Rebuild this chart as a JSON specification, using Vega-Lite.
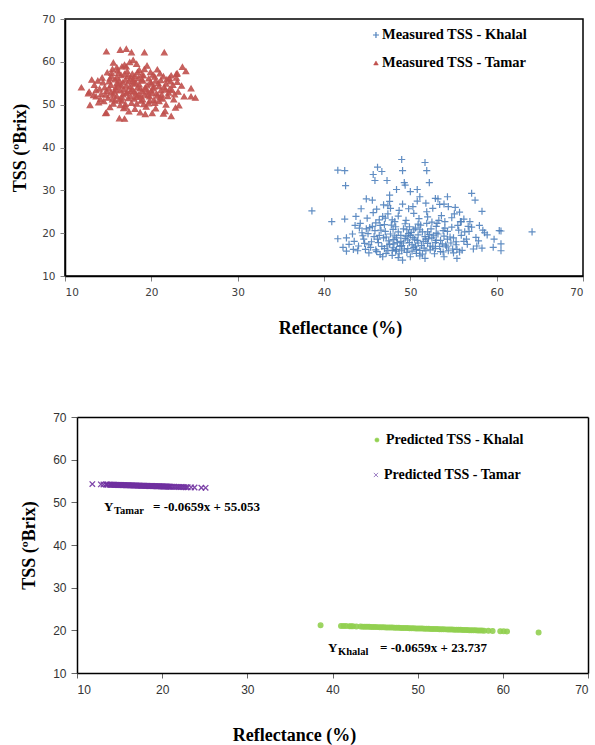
{
  "$schema": "https://vega.github.io/schema/vega-lite/v6.json",
  "background": "#ffffff",
  "padding": {"left": 10, "top": 13, "right": 5, "bottom": 5},
  "spacing": 72,
  "resolve": {"scale": {"fill": "independent", "stroke": "independent", "shape": "independent", "size": "independent"}},
  "datasets": {
    "measured": [
      {"s":"K","x":38.6,"y":25.2},{"s":"K","x":41.6,"y":34.7},{"s":"K","x":42.4,"y":34.6},{"s":"K","x":42.5,"y":31.1},{"s":"K","x":40.9,"y":22.7},{"s":"K","x":42.4,"y":23.3},{"s":"K","x":49.0,"y":37.2},{"s":"K","x":51.7,"y":36.5},{"s":"K","x":46.2,"y":35.4},{"s":"K","x":45.7,"y":33.7},
      {"s":"K","x":46.7,"y":34.4},{"s":"K","x":49.1,"y":34.6},{"s":"K","x":51.9,"y":34.6},{"s":"K","x":45.9,"y":32.3},{"s":"K","x":47.3,"y":32.3},{"s":"K","x":52.2,"y":31.8},{"s":"K","x":49.3,"y":31.8},{"s":"K","x":64.1,"y":20.3},{"s":"K","x":57.1,"y":29.3},{"s":"K","x":57.5,"y":27.7},
      {"s":"K","x":58.3,"y":25.1},{"s":"K","x":60.5,"y":20.5},{"s":"K","x":60.5,"y":15.9},{"s":"K","x":59.7,"y":18.6},{"s":"K","x":49.1,"y":13.7},{"s":"K","x":44.9,"y":28.0},{"s":"K","x":44.3,"y":25.7},{"s":"K","x":55.9,"y":22.7},{"s":"K","x":54.4,"y":26.2},{"s":"K","x":53.2,"y":28.0},
      {"s":"K","x":45.6,"y":27.7},{"s":"K","x":41.6,"y":18.7},{"s":"K","x":42.6,"y":18.9},{"s":"K","x":43.6,"y":21.8},{"s":"K","x":42.2,"y":16.7},{"s":"K","x":42.6,"y":15.8},{"s":"K","x":43.4,"y":16.2},{"s":"K","x":44.9,"y":21.0},{"s":"K","x":46.1,"y":25.6},{"s":"K","x":46.9,"y":26.6},
      {"s":"K","x":47.4,"y":26.4},{"s":"K","x":47.6,"y":28.9},{"s":"K","x":48.4,"y":30.2},{"s":"K","x":49.4,"y":31.2},{"s":"K","x":50.0,"y":29.7},{"s":"K","x":50.8,"y":30.2},{"s":"K","x":51.1,"y":28.5},{"s":"K","x":51.8,"y":27.0},{"s":"K","x":52.9,"y":28.1},{"s":"K","x":53.4,"y":26.7},
      {"s":"K","x":54.3,"y":28.5},{"s":"K","x":55.2,"y":26.0},{"s":"K","x":55.7,"y":24.9},{"s":"K","x":58.4,"y":20.7},{"s":"K","x":58.6,"y":20.1},{"s":"K","x":60.3,"y":20.6},{"s":"K","x":59.6,"y":16.7},{"s":"K","x":60.5,"y":17.5},{"s":"K","x":57.7,"y":17.0},{"s":"K","x":58.3,"y":16.5},
      {"s":"K","x":56.9,"y":22.7},{"s":"K","x":55.8,"y":22.7},{"s":"K","x":56.3,"y":20.3},{"s":"K","x":56.5,"y":18.6},{"s":"K","x":55.4,"y":14.1},{"s":"K","x":53.9,"y":14.5},{"s":"K","x":51.7,"y":14.1},{"s":"K","x":46.8,"y":14.5},{"s":"K","x":45.2,"y":15.4},{"s":"K","x":55.4,"y":16.2},
      {"s":"K","x":54.2,"y":16.8},{"s":"K","x":47.5,"y":18.2},{"s":"K","x":48.1,"y":17.5},{"s":"K","x":48.8,"y":16.9},{"s":"K","x":49.4,"y":18.8},{"s":"K","x":50.2,"y":17.3},{"s":"K","x":50.9,"y":19.6},{"s":"K","x":51.5,"y":18.1},{"s":"K","x":52.3,"y":17.0},{"s":"K","x":47.0,"y":16.4},
      {"s":"K","x":46.3,"y":17.8},{"s":"K","x":45.8,"y":19.2},{"s":"K","x":48.6,"y":20.3},{"s":"K","x":49.9,"y":21.5},{"s":"K","x":51.1,"y":20.8},{"s":"K","x":52.7,"y":19.4},{"s":"K","x":53.5,"y":18.3},{"s":"K","x":54.1,"y":17.2},{"s":"K","x":53.0,"y":21.6},{"s":"K","x":47.8,"y":21.9},
      {"s":"K","x":46.6,"y":20.7},{"s":"K","x":45.2,"y":17.3},{"s":"K","x":44.6,"y":18.6},{"s":"K","x":44.0,"y":17.0},{"s":"K","x":43.5,"y":18.1},{"s":"K","x":48.3,"y":15.8},{"s":"K","x":49.6,"y":15.5},{"s":"K","x":50.7,"y":16.2},{"s":"K","x":51.8,"y":15.9},{"s":"K","x":52.9,"y":16.4},
      {"s":"K","x":53.8,"y":15.6},{"s":"K","x":47.2,"y":15.3},{"s":"K","x":46.0,"y":16.1},{"s":"K","x":48.9,"y":19.5},{"s":"K","x":49.2,"y":17.7},{"s":"K","x":50.5,"y":18.6},{"s":"K","x":48.4,"y":18.9},{"s":"K","x":47.7,"y":19.8},{"s":"K","x":46.9,"y":18.9},{"s":"K","x":51.3,"y":17.1},
      {"s":"K","x":50.1,"y":20.2},{"s":"K","x":49.7,"y":16.4},{"s":"K","x":48.0,"y":16.6},{"s":"K","x":52.1,"y":18.7},{"s":"K","x":53.2,"y":19.8},{"s":"K","x":54.6,"y":19.1},{"s":"K","x":55.3,"y":18.0},{"s":"K","x":55.9,"y":19.5},{"s":"K","x":56.6,"y":17.4},{"s":"K","x":54.9,"y":16.3},
      {"s":"K","x":55.6,"y":20.7},{"s":"K","x":54.0,"y":21.2},{"s":"K","x":52.5,"y":22.6},{"s":"K","x":51.0,"y":23.4},{"s":"K","x":49.5,"y":23.0},{"s":"K","x":48.2,"y":22.7},{"s":"K","x":47.1,"y":23.5},{"s":"K","x":46.0,"y":22.4},{"s":"K","x":45.3,"y":21.3},{"s":"K","x":44.4,"y":20.1},
      {"s":"K","x":43.3,"y":19.8},{"s":"K","x":50.4,"y":24.6},{"s":"K","x":51.9,"y":25.0},{"s":"K","x":53.6,"y":24.1},{"s":"K","x":48.7,"y":25.3},{"s":"K","x":47.4,"y":24.5},{"s":"K","x":49.1,"y":26.8},{"s":"K","x":50.8,"y":27.5},{"s":"K","x":52.6,"y":25.8},{"s":"K","x":54.8,"y":23.6},
      {"s":"K","x":56.2,"y":23.3},{"s":"K","x":57.1,"y":21.4},{"s":"K","x":57.6,"y":19.0},{"s":"K","x":46.5,"y":15.0},{"s":"K","x":47.9,"y":14.8},{"s":"K","x":50.0,"y":14.5},{"s":"K","x":51.4,"y":15.1},{"s":"K","x":52.8,"y":15.2},{"s":"K","x":55.0,"y":15.4},{"s":"K","x":56.0,"y":16.0},
      {"s":"K","x":53.7,"y":17.5},{"s":"K","x":49.0,"y":17.1},{"s":"K","x":50.6,"y":17.0},{"s":"K","x":48.5,"y":17.8},{"s":"K","x":47.3,"y":17.0},{"s":"K","x":51.7,"y":19.2},{"s":"K","x":52.0,"y":20.3},{"s":"K","x":50.3,"y":19.0},{"s":"K","x":49.8,"y":19.9},{"s":"K","x":48.0,"y":18.5},
      {"s":"K","x":46.4,"y":19.5},{"s":"K","x":45.5,"y":18.0},{"s":"K","x":44.8,"y":16.2},{"s":"K","x":43.9,"y":15.9},{"s":"K","x":53.3,"y":23.0},{"s":"K","x":55.5,"y":21.8},{"s":"K","x":56.8,"y":20.4},{"s":"K","x":57.9,"y":18.2},{"s":"K","x":58.9,"y":19.6},{"s":"K","x":42.9,"y":17.4},
      {"s":"K","x":44.2,"y":22.3},{"s":"K","x":46.8,"y":23.9},{"s":"K","x":48.6,"y":24.0},{"s":"K","x":50.9,"y":22.1},{"s":"K","x":52.4,"y":21.0},{"s":"K","x":54.3,"y":20.4},{"s":"K","x":45.7,"y":24.8},{"s":"K","x":47.6,"y":27.4},{"s":"K","x":53.9,"y":26.8},{"s":"K","x":55.1,"y":24.5},
      {"s":"K","x":46.2,"y":18.6},{"s":"K","x":46.7,"y":16.9},{"s":"K","x":47.1,"y":20.4},{"s":"K","x":47.6,"y":17.4},{"s":"K","x":48.0,"y":20.9},{"s":"K","x":48.4,"y":16.2},{"s":"K","x":48.9,"y":18.1},{"s":"K","x":49.2,"y":21.0},{"s":"K","x":49.5,"y":19.3},{"s":"K","x":49.9,"y":17.8},
      {"s":"K","x":50.4,"y":16.7},{"s":"K","x":50.8,"y":18.3},{"s":"K","x":51.2,"y":21.9},{"s":"K","x":51.6,"y":16.5},{"s":"K","x":52.0,"y":17.6},{"s":"K","x":52.5,"y":18.9},{"s":"K","x":52.9,"y":17.8},{"s":"K","x":53.4,"y":16.9},{"s":"K","x":53.8,"y":20.6},{"s":"K","x":54.3,"y":18.6},
      {"s":"K","x":54.7,"y":17.7},{"s":"K","x":45.4,"y":16.7},{"s":"K","x":45.9,"y":20.6},{"s":"K","x":46.5,"y":21.8},{"s":"K","x":47.9,"y":23.1},{"s":"K","x":49.4,"y":22.2},{"s":"K","x":50.6,"y":21.2},{"s":"K","x":51.9,"y":22.3},{"s":"K","x":53.1,"y":22.3},{"s":"K","x":48.7,"y":15.2},
      {"s":"K","x":50.2,"y":15.8},{"s":"K","x":51.1,"y":14.7},{"s":"K","x":52.3,"y":16.1},{"s":"K","x":49.6,"y":20.8},{"s":"K","x":48.2,"y":19.4},{"s":"K","x":47.2,"y":19.1},{"s":"K","x":50.9,"y":17.7},{"s":"K","x":53.0,"y":18.3},{"s":"K","x":44.5,"y":19.4},{"s":"K","x":55.0,"y":18.9},
      {"s":"K","x":44.7,"y":17.6},{"s":"K","x":45.1,"y":19.9},{"s":"K","x":45.6,"y":21.6},{"s":"K","x":46.1,"y":15.7},{"s":"K","x":46.4,"y":23.1},{"s":"K","x":47.0,"y":22.0},{"s":"K","x":47.4,"y":15.9},{"s":"K","x":47.9,"y":16.0},{"s":"K","x":48.3,"y":21.5},{"s":"K","x":48.6,"y":14.3},
      {"s":"K","x":49.0,"y":15.9},{"s":"K","x":49.3,"y":16.3},{"s":"K","x":49.7,"y":18.4},{"s":"K","x":50.0,"y":19.5},{"s":"K","x":50.4,"y":20.8},{"s":"K","x":50.7,"y":15.3},{"s":"K","x":51.1,"y":16.0},{"s":"K","x":51.4,"y":20.3},{"s":"K","x":51.8,"y":18.6},{"s":"K","x":52.2,"y":19.7},
      {"s":"K","x":52.6,"y":16.8},{"s":"K","x":53.0,"y":20.0},{"s":"K","x":53.5,"y":15.7},{"s":"K","x":53.9,"y":19.3},{"s":"K","x":54.4,"y":15.9},{"s":"K","x":54.8,"y":21.4},{"s":"K","x":55.3,"y":17.3},{"s":"K","x":55.7,"y":15.6},{"s":"K","x":56.2,"y":18.1},{"s":"K","x":56.7,"y":21.6},
      {"s":"K","x":57.3,"y":16.3},{"s":"K","x":58.0,"y":21.8},{"s":"K","x":43.7,"y":23.9},{"s":"K","x":44.1,"y":21.2},{"s":"K","x":45.0,"y":23.5},{"s":"K","x":47.7,"y":25.8},{"s":"K","x":49.8,"y":25.7},{"s":"K","x":52.0,"y":23.8},{"s":"K","x":54.0,"y":22.7},{"s":"K","x":50.3,"y":26.2},
      {"s":"T","x":11.9,"y":54.0},{"s":"T","x":14.8,"y":62.4},{"s":"T","x":16.4,"y":62.8},{"s":"T","x":17.1,"y":63.0},{"s":"T","x":17.7,"y":62.2},{"s":"T","x":19.2,"y":62.2},{"s":"T","x":21.5,"y":62.2},{"s":"T","x":16.3,"y":46.8},{"s":"T","x":16.9,"y":46.7},{"s":"T","x":22.3,"y":47.3},
      {"s":"T","x":14.7,"y":48.0},{"s":"T","x":19.3,"y":47.8},{"s":"T","x":25.1,"y":51.6},{"s":"T","x":24.6,"y":51.9},{"s":"T","x":23.6,"y":58.8},{"s":"T","x":24.6,"y":53.8},{"s":"T","x":22.9,"y":57.2},{"s":"T","x":17.9,"y":60.4},{"s":"T","x":15.6,"y":59.8},{"s":"T","x":13.1,"y":55.8},
      {"s":"T","x":12.9,"y":49.9},{"s":"T","x":12.8,"y":53.0},{"s":"T","x":23.2,"y":49.8},{"s":"T","x":22.1,"y":56.2},{"s":"T","x":12.7,"y":52.6},{"s":"T","x":16.0,"y":58.7},{"s":"T","x":17.1,"y":58.9},{"s":"T","x":23.0,"y":57.3},{"s":"T","x":23.8,"y":51.9},{"s":"T","x":14.8,"y":48.1},
      {"s":"T","x":17.5,"y":54.2},{"s":"T","x":16.8,"y":53.6},{"s":"T","x":18.2,"y":55.1},{"s":"T","x":17.0,"y":55.8},{"s":"T","x":18.9,"y":53.2},{"s":"T","x":16.2,"y":54.7},{"s":"T","x":15.7,"y":53.1},{"s":"T","x":19.5,"y":54.5},{"s":"T","x":20.2,"y":53.8},{"s":"T","x":20.8,"y":55.0},
      {"s":"T","x":21.5,"y":54.1},{"s":"T","x":15.1,"y":55.4},{"s":"T","x":14.6,"y":54.0},{"s":"T","x":14.2,"y":52.5},{"s":"T","x":15.0,"y":51.6},{"s":"T","x":16.0,"y":52.0},{"s":"T","x":17.3,"y":51.5},{"s":"T","x":18.5,"y":52.3},{"s":"T","x":19.8,"y":51.9},{"s":"T","x":20.6,"y":52.6},
      {"s":"T","x":21.3,"y":51.4},{"s":"T","x":22.0,"y":52.8},{"s":"T","x":22.5,"y":54.6},{"s":"T","x":21.8,"y":55.9},{"s":"T","x":20.4,"y":56.5},{"s":"T","x":19.1,"y":56.8},{"s":"T","x":17.8,"y":57.2},{"s":"T","x":16.5,"y":56.9},{"s":"T","x":15.4,"y":56.6},{"s":"T","x":14.9,"y":57.5},
      {"s":"T","x":16.1,"y":58.0},{"s":"T","x":18.6,"y":58.1},{"s":"T","x":19.9,"y":57.6},{"s":"T","x":21.0,"y":57.3},{"s":"T","x":17.6,"y":56.3},{"s":"T","x":18.0,"y":53.0},{"s":"T","x":17.1,"y":52.7},{"s":"T","x":16.4,"y":53.3},{"s":"T","x":19.0,"y":55.6},{"s":"T","x":19.6,"y":53.0},
      {"s":"T","x":18.4,"y":54.0},{"s":"T","x":17.9,"y":54.9},{"s":"T","x":16.7,"y":55.2},{"s":"T","x":15.9,"y":54.1},{"s":"T","x":15.3,"y":52.8},{"s":"T","x":14.5,"y":50.8},{"s":"T","x":15.6,"y":50.2},{"s":"T","x":16.6,"y":50.9},{"s":"T","x":17.7,"y":50.4},{"s":"T","x":18.8,"y":50.9},
      {"s":"T","x":19.7,"y":50.3},{"s":"T","x":20.9,"y":50.8},{"s":"T","x":21.7,"y":50.0},{"s":"T","x":22.6,"y":51.2},{"s":"T","x":23.1,"y":53.0},{"s":"T","x":23.0,"y":55.3},{"s":"T","x":22.3,"y":56.8},{"s":"T","x":14.0,"y":53.7},{"s":"T","x":13.6,"y":51.9},{"s":"T","x":13.4,"y":54.6},
      {"s":"T","x":15.2,"y":49.4},{"s":"T","x":16.8,"y":49.2},{"s":"T","x":18.1,"y":49.0},{"s":"T","x":19.4,"y":49.5},{"s":"T","x":20.5,"y":49.1},{"s":"T","x":21.6,"y":48.5},{"s":"T","x":17.4,"y":48.4},{"s":"T","x":18.7,"y":48.2},{"s":"T","x":20.1,"y":48.0},{"s":"T","x":16.3,"y":51.2},
      {"s":"T","x":17.0,"y":50.1},{"s":"T","x":18.3,"y":51.8},{"s":"T","x":19.2,"y":52.4},{"s":"T","x":20.0,"y":54.9},{"s":"T","x":21.1,"y":53.3},{"s":"T","x":22.1,"y":53.6},{"s":"T","x":15.8,"y":55.9},{"s":"T","x":17.2,"y":57.8},{"s":"T","x":18.9,"y":57.0},{"s":"T","x":20.7,"y":58.2},
      {"s":"T","x":19.5,"y":59.1},{"s":"T","x":18.3,"y":59.5},{"s":"T","x":16.9,"y":59.3},{"s":"T","x":15.5,"y":58.3},{"s":"T","x":14.3,"y":56.3},{"s":"T","x":13.8,"y":55.6},{"s":"T","x":22.8,"y":49.3},{"s":"T","x":21.4,"y":47.9},{"s":"T","x":20.3,"y":51.1},{"s":"T","x":17.6,"y":53.2},
      {"s":"T","x":18.7,"y":53.8},{"s":"T","x":16.5,"y":54.4},{"s":"T","x":19.3,"y":54.0},{"s":"T","x":20.5,"y":55.6},{"s":"T","x":21.9,"y":52.0},{"s":"T","x":14.8,"y":53.2},{"s":"T","x":15.6,"y":52.3},{"s":"T","x":17.9,"y":56.0},{"s":"T","x":18.1,"y":56.7},{"s":"T","x":16.2,"y":57.4},
      {"s":"T","x":22.9,"y":56.3},{"s":"T","x":23.5,"y":54.4},{"s":"T","x":24.0,"y":57.8},{"s":"T","x":13.3,"y":52.2},{"s":"T","x":13.9,"y":50.5},
      {"s":"T","x":15.3,"y":54.6},{"s":"T","x":15.9,"y":53.5},{"s":"T","x":16.3,"y":55.6},{"s":"T","x":16.7,"y":52.4},{"s":"T","x":17.1,"y":54.4},{"s":"T","x":17.4,"y":55.4},{"s":"T","x":17.8,"y":53.6},{"s":"T","x":18.2,"y":52.6},{"s":"T","x":18.6,"y":54.7},{"s":"T","x":18.9,"y":55.9},
      {"s":"T","x":19.3,"y":53.6},{"s":"T","x":19.6,"y":52.2},{"s":"T","x":20.0,"y":53.3},{"s":"T","x":20.3,"y":54.2},{"s":"T","x":20.7,"y":52.1},{"s":"T","x":21.1,"y":55.7},{"s":"T","x":21.4,"y":56.6},{"s":"T","x":16.0,"y":56.3},{"s":"T","x":16.9,"y":57.2},{"s":"T","x":18.4,"y":57.6},
      {"s":"T","x":19.7,"y":56.1},{"s":"T","x":15.1,"y":53.8},{"s":"T","x":14.4,"y":55.2},{"s":"T","x":15.5,"y":51.2},{"s":"T","x":17.2,"y":53.0},{"s":"T","x":18.0,"y":51.4},{"s":"T","x":19.0,"y":51.2},{"s":"T","x":20.1,"y":52.7},{"s":"T","x":21.2,"y":52.3},{"s":"T","x":16.6,"y":51.7},
      {"s":"T","x":17.9,"y":55.5},{"s":"T","x":18.5,"y":56.2},{"s":"T","x":17.3,"y":56.7},{"s":"T","x":16.0,"y":55.0},{"s":"T","x":20.9,"y":54.3},{"s":"T","x":22.4,"y":53.4},{"s":"T","x":19.9,"y":55.3},{"s":"T","x":18.8,"y":52.0},{"s":"T","x":15.4,"y":57.4},{"s":"T","x":21.6,"y":53.5},
      {"s":"T","x":14.1,"y":51.3},{"s":"T","x":14.7,"y":52.3},{"s":"T","x":15.2,"y":56.1},{"s":"T","x":15.8,"y":50.9},{"s":"T","x":16.4,"y":49.9},{"s":"T","x":17.0,"y":49.5},{"s":"T","x":17.6,"y":51.9},{"s":"T","x":18.3,"y":50.2},{"s":"T","x":19.1,"y":50.1},{"s":"T","x":19.8,"y":50.9},
      {"s":"T","x":20.4,"y":50.4},{"s":"T","x":21.0,"y":51.7},{"s":"T","x":21.7,"y":54.9},{"s":"T","x":22.2,"y":55.4},{"s":"T","x":22.7,"y":52.4},{"s":"T","x":16.6,"y":58.9},{"s":"T","x":17.5,"y":59.9},{"s":"T","x":19.2,"y":58.3},{"s":"T","x":20.2,"y":57.0},{"s":"T","x":13.6,"y":53.4}
    ],
    "predicted": [
      {"s":"K","x":38.6,"y":21.193},{"s":"K","x":41.0,"y":21.035},{"s":"K","x":41.3,"y":21.015},{"s":"K","x":41.6,"y":20.996},{"s":"K","x":42.0,"y":20.969},{"s":"K","x":42.2,"y":20.956},{"s":"K","x":42.4,"y":20.943},{"s":"K","x":42.8,"y":20.916},{"s":"K","x":43.3,"y":20.884},{"s":"K","x":43.8,"y":20.851},
      {"s":"K","x":44.3,"y":20.818},{"s":"K","x":44.8,"y":20.785},{"s":"K","x":45.3,"y":20.752},{"s":"K","x":45.8,"y":20.719},{"s":"K","x":46.3,"y":20.686},{"s":"K","x":46.8,"y":20.653},{"s":"K","x":47.3,"y":20.620},{"s":"K","x":47.8,"y":20.587},{"s":"K","x":48.3,"y":20.554},{"s":"K","x":48.8,"y":20.521},
      {"s":"K","x":49.3,"y":20.488},{"s":"K","x":49.8,"y":20.455},{"s":"K","x":50.3,"y":20.422},{"s":"K","x":50.8,"y":20.389},{"s":"K","x":51.3,"y":20.356},{"s":"K","x":51.8,"y":20.323},{"s":"K","x":52.3,"y":20.290},{"s":"K","x":52.8,"y":20.258},{"s":"K","x":53.3,"y":20.225},{"s":"K","x":53.8,"y":20.192},
      {"s":"K","x":54.3,"y":20.159},{"s":"K","x":54.8,"y":20.126},{"s":"K","x":55.3,"y":20.093},{"s":"K","x":55.8,"y":20.060},{"s":"K","x":56.3,"y":20.027},{"s":"K","x":56.8,"y":19.994},{"s":"K","x":57.3,"y":19.961},{"s":"K","x":57.8,"y":19.928},{"s":"K","x":58.3,"y":19.895},{"s":"K","x":58.8,"y":19.862},
      {"s":"K","x":59.7,"y":19.803},{"s":"K","x":60.1,"y":19.776},{"s":"K","x":60.5,"y":19.750},{"s":"K","x":64.2,"y":19.506},
      {"s":"K","x":43.55,"y":20.867},{"s":"K","x":44.05,"y":20.834},{"s":"K","x":44.55,"y":20.801},{"s":"K","x":45.05,"y":20.768},{"s":"K","x":45.55,"y":20.735},{"s":"K","x":46.05,"y":20.702},{"s":"K","x":46.55,"y":20.669},{"s":"K","x":47.05,"y":20.636},{"s":"K","x":47.55,"y":20.603},{"s":"K","x":48.05,"y":20.571},
      {"s":"K","x":48.55,"y":20.538},{"s":"K","x":49.05,"y":20.505},{"s":"K","x":49.55,"y":20.472},{"s":"K","x":50.05,"y":20.439},{"s":"K","x":50.55,"y":20.406},{"s":"K","x":51.05,"y":20.373},{"s":"K","x":51.55,"y":20.340},{"s":"K","x":52.05,"y":20.307},{"s":"K","x":52.55,"y":20.274},{"s":"K","x":53.05,"y":20.241},
      {"s":"K","x":53.55,"y":20.208},{"s":"K","x":54.05,"y":20.175},{"s":"K","x":54.55,"y":20.142},{"s":"K","x":55.05,"y":20.109},{"s":"K","x":55.55,"y":20.076},{"s":"K","x":56.05,"y":20.043},{"s":"K","x":56.55,"y":20.010},{"s":"K","x":57.05,"y":19.977},{"s":"K","x":57.55,"y":19.944},
      {"s":"T","x":11.8,"y":54.275},{"s":"T","x":12.8,"y":54.210},{"s":"T","x":13.1,"y":54.190},{"s":"T","x":13.4,"y":54.170},{"s":"T","x":13.8,"y":54.144},{"s":"T","x":14.2,"y":54.117},{"s":"T","x":14.6,"y":54.091},{"s":"T","x":15.0,"y":54.065},{"s":"T","x":15.4,"y":54.038},{"s":"T","x":15.6,"y":54.025},
      {"s":"T","x":15.8,"y":54.012},{"s":"T","x":16.0,"y":53.998},{"s":"T","x":16.2,"y":53.985},{"s":"T","x":16.4,"y":53.972},{"s":"T","x":16.6,"y":53.959},{"s":"T","x":16.8,"y":53.946},{"s":"T","x":17.0,"y":53.933},{"s":"T","x":17.2,"y":53.920},{"s":"T","x":17.4,"y":53.906},{"s":"T","x":17.6,"y":53.893},
      {"s":"T","x":17.8,"y":53.880},{"s":"T","x":18.0,"y":53.867},{"s":"T","x":18.2,"y":53.854},{"s":"T","x":18.4,"y":53.840},{"s":"T","x":18.6,"y":53.827},{"s":"T","x":18.8,"y":53.814},{"s":"T","x":19.0,"y":53.801},{"s":"T","x":19.2,"y":53.788},{"s":"T","x":19.4,"y":53.775},{"s":"T","x":19.6,"y":53.761},
      {"s":"T","x":19.8,"y":53.748},{"s":"T","x":20.0,"y":53.735},{"s":"T","x":20.2,"y":53.722},{"s":"T","x":20.4,"y":53.709},{"s":"T","x":20.6,"y":53.695},{"s":"T","x":20.8,"y":53.682},{"s":"T","x":21.0,"y":53.669},{"s":"T","x":21.4,"y":53.643},{"s":"T","x":21.8,"y":53.616},{"s":"T","x":22.2,"y":53.590},
      {"s":"T","x":22.6,"y":53.564},{"s":"T","x":23.0,"y":53.537},{"s":"T","x":23.4,"y":53.511},{"s":"T","x":23.8,"y":53.485},{"s":"T","x":24.6,"y":53.432},{"s":"T","x":25.1,"y":53.399},
      {"s":"T","x":13.5,"y":54.163},{"s":"T","x":13.6,"y":54.157},{"s":"T","x":13.9,"y":54.137},{"s":"T","x":14.0,"y":54.130},{"s":"T","x":14.1,"y":54.124},{"s":"T","x":14.3,"y":54.111},{"s":"T","x":14.4,"y":54.104},{"s":"T","x":14.5,"y":54.097},{"s":"T","x":14.7,"y":54.084},{"s":"T","x":14.8,"y":54.078},
      {"s":"T","x":14.9,"y":54.071},{"s":"T","x":15.1,"y":54.058},{"s":"T","x":15.2,"y":54.051},{"s":"T","x":15.3,"y":54.045},{"s":"T","x":15.5,"y":54.032},{"s":"T","x":15.7,"y":54.018},{"s":"T","x":15.9,"y":54.005},{"s":"T","x":16.1,"y":53.992},{"s":"T","x":16.3,"y":53.979},{"s":"T","x":16.5,"y":53.966},
      {"s":"T","x":16.7,"y":53.952},{"s":"T","x":16.9,"y":53.939},{"s":"T","x":17.1,"y":53.926},{"s":"T","x":17.3,"y":53.913},{"s":"T","x":17.5,"y":53.900},{"s":"T","x":17.7,"y":53.887},{"s":"T","x":17.9,"y":53.873},{"s":"T","x":18.1,"y":53.860},{"s":"T","x":18.3,"y":53.847},{"s":"T","x":18.5,"y":53.834},
      {"s":"T","x":18.7,"y":53.821},{"s":"T","x":18.9,"y":53.808},{"s":"T","x":19.1,"y":53.794},{"s":"T","x":19.3,"y":53.781},{"s":"T","x":19.5,"y":53.768},{"s":"T","x":19.7,"y":53.755},{"s":"T","x":19.9,"y":53.742},{"s":"T","x":20.1,"y":53.728},{"s":"T","x":20.3,"y":53.715},{"s":"T","x":20.5,"y":53.702},
      {"s":"T","x":20.7,"y":53.689},{"s":"T","x":20.9,"y":53.676},{"s":"T","x":21.2,"y":53.656},{"s":"T","x":21.6,"y":53.630},{"s":"T","x":22.0,"y":53.603},{"s":"T","x":22.4,"y":53.577},{"s":"T","x":22.8,"y":53.550}
    ]
  },
  "vconcat": [
    {
      "width": 518,
      "height": 257,
      "resolve": {"axis": {"x": "independent", "y": "independent"}},
      "layer": [
        {
          "data": {"name": "measured"},
          "mark": {"type": "point", "filled": true, "strokeWidth": 1.2, "opacity": 0.9},
          "encoding": {
            "x": {"field": "x", "type": "quantitative",
              "scale": {"domain": [10, 70], "nice": false, "zero": false},
              "axis": {"values": [10, 20, 30, 40, 50, 60, 70], "title": "Reflectance (%)", "titleX": 275, "titlePadding": 22,
                "labelFont": "DejaVu Sans", "labelFontSize": 10.5, "labelColor": "#404040", "tickColor": "#808080", "tickSize": 5, "labelPadding": 6,
                "domainColor": "#000", "domainWidth": 1.5,
                "titleFont": "Liberation Serif", "titleFontSize": 18, "titleFontWeight": "bold", "titleColor": "#000"}},
            "y": {"field": "y", "type": "quantitative",
              "scale": {"domain": [10, 70], "nice": false, "zero": false},
              "axis": {"values": [10, 20, 30, 40, 50, 60, 70], "title": "TSS (ºBrix)", "titlePadding": 12,
                "labelFont": "DejaVu Sans", "labelFontSize": 10.5, "labelColor": "#404040", "tickColor": "#808080", "tickSize": 5, "labelPadding": 5,
                "domainColor": "#000", "domainWidth": 1.5,
                "titleFont": "Liberation Serif", "titleFontSize": 18, "titleFontWeight": "bold", "titleColor": "#000"}},
            "fill": {"field": "s", "type": "nominal", "scale": {"domain": ["K", "T"], "range": ["#4F81BD", "#C0504D"]}, "legend": null},
            "stroke": {"field": "s", "type": "nominal", "scale": {"domain": ["K", "T"], "range": ["#4F81BD", "#C0504D"]}, "legend": null},
            "shape": {"field": "s", "type": "nominal", "scale": {"domain": ["K", "T"], "range": ["M-1,0H1M0,-1V1", "triangle-up"]}, "legend": null},
            "size": {"field": "s", "type": "nominal", "scale": {"domain": ["K", "T"], "range": [50, 32]}, "legend": null}
          }
        },
        {
          "data": {"values": [{}]},
          "mark": {"type": "point", "shape": "M-1,0H1M0,-1V1", "size": 36, "stroke": "#4F81BD", "strokeWidth": 1.2, "filled": false, "opacity": 1},
          "encoding": {
            "x": {"datum": 46.02, "type": "quantitative", "axis": null},
            "y": {"datum": 66.26, "type": "quantitative", "axis": null}
          }
        },
        {
          "data": {"values": [{}]},
          "mark": {"type": "point", "shape": "triangle-up", "size": 22, "fill": "#C0504D", "stroke": "#C0504D", "strokeWidth": 0.5, "filled": true, "opacity": 1},
          "encoding": {
            "x": {"datum": 46.02, "type": "quantitative", "axis": null},
            "y": {"datum": 59.73, "type": "quantitative", "axis": null}
          }
        },
        {
          "data": {"values": [{}]},
          "mark": {"type": "text", "text": "Measured TSS - Khalal", "align": "left", "baseline": "middle", "dx": 6, "font": "Liberation Serif", "fontSize": 14.5, "fontWeight": "bold", "color": "#000"},
          "encoding": {
            "x": {"datum": 46.02, "type": "quantitative", "axis": null},
            "y": {"datum": 66.26, "type": "quantitative", "axis": null}
          }
        },
        {
          "data": {"values": [{}]},
          "mark": {"type": "text", "text": "Measured TSS - Tamar", "align": "left", "baseline": "middle", "dx": 6, "font": "Liberation Serif", "fontSize": 14.5, "fontWeight": "bold", "color": "#000"},
          "encoding": {
            "x": {"datum": 46.02, "type": "quantitative", "axis": null},
            "y": {"datum": 59.73, "type": "quantitative", "axis": null}
          }
        }
      ]
    },
    {
      "width": 523,
      "height": 256,
      "view": {"stroke": null},
      "resolve": {"axis": {"x": "independent", "y": "independent"}},
      "layer": [
        {
          "data": {"name": "predicted"},
          "mark": {"type": "point", "filled": true, "strokeWidth": 1.3, "opacity": 0.9},
          "encoding": {
            "x": {"field": "x", "type": "quantitative",
              "scale": {"domain": [10, 70], "nice": false, "zero": false, "range": [12, 523]},
              "axis": {"values": [10, 20, 30, 40, 50, 60, 70], "title": "Reflectance (%)", "titleX": 229, "titlePadding": 31,
                "labelFont": "Liberation Sans", "labelFontSize": 12, "labelColor": "#333", "tickColor": "#666", "tickSize": 5, "labelPadding": 6,
                "domainColor": "#000", "domainWidth": 1.5,
                "titleFont": "Liberation Serif", "titleFontSize": 18, "titleFontWeight": "bold", "titleColor": "#000"}},
            "y": {"field": "y", "type": "quantitative",
              "scale": {"domain": [10, 70], "nice": false, "zero": false},
              "axis": {"values": [10, 20, 30, 40, 50, 60, 70], "title": "TSS (ºBrix)", "titlePadding": 14, "offset": -12,
                "labelFont": "Liberation Sans", "labelFontSize": 12, "labelColor": "#333", "tickColor": "#666", "tickSize": 6, "labelPadding": 5,
                "domainColor": "#000", "domainWidth": 1.5,
                "titleFont": "Liberation Serif", "titleFontSize": 18, "titleFontWeight": "bold", "titleColor": "#000"}},
            "fill": {"field": "s", "type": "nominal", "scale": {"domain": ["K", "T"], "range": ["#92D050", "#7030A0"]}, "legend": null},
            "stroke": {"field": "s", "type": "nominal", "scale": {"domain": ["K", "T"], "range": ["#92D050", "#7030A0"]}, "legend": null},
            "shape": {"field": "s", "type": "nominal", "scale": {"domain": ["K", "T"], "range": ["circle", "M-1,-1L1,1M1,-1L-1,1"]}, "legend": null},
            "size": {"field": "s", "type": "nominal", "scale": {"domain": ["K", "T"], "range": [22, 30]}, "legend": null}
          }
        },
        {
          "data": {"values": [{}]},
          "mark": {"type": "text", "text": "Y", "align": "left", "baseline": "alphabetic", "font": "Liberation Serif", "fontSize": 13, "fontWeight": "bold", "color": "#000"},
          "encoding": {
            "x": {"datum": 13.17, "type": "quantitative", "scale": {"domain": [10, 70], "nice": false, "zero": false, "range": [12, 523]},
              "axis": {"orient": "top", "labels": false, "ticks": false, "title": null, "domainColor": "#000", "domainWidth": 1.5}},
            "y": {"datum": 47.97, "type": "quantitative", "scale": {"domain": [10, 70], "nice": false, "zero": false},
              "axis": {"orient": "right", "labels": false, "ticks": false, "title": null, "domainColor": "#000", "domainWidth": 1.5}}
          }
        },
        {
          "data": {"values": [{}]},
          "mark": {"type": "text", "text": "Tamar", "align": "left", "baseline": "alphabetic", "dx": 10, "dy": 3, "font": "Liberation Serif", "fontSize": 10.5, "fontWeight": "bold", "color": "#000"},
          "encoding": {
            "x": {"datum": 13.17, "type": "quantitative", "axis": null},
            "y": {"datum": 47.97, "type": "quantitative", "axis": null}
          }
        },
        {
          "data": {"values": [{}]},
          "mark": {"type": "text", "text": "= -0.0659x + 55.053", "align": "left", "baseline": "alphabetic", "dx": 49, "font": "Liberation Serif", "fontSize": 13, "fontWeight": "bold", "color": "#000"},
          "encoding": {
            "x": {"datum": 13.17, "type": "quantitative", "axis": null},
            "y": {"datum": 47.97, "type": "quantitative", "axis": null}
          }
        },
        {
          "data": {"values": [{}]},
          "mark": {"type": "text", "text": "Y", "align": "left", "baseline": "alphabetic", "font": "Liberation Serif", "fontSize": 13, "fontWeight": "bold", "color": "#000"},
          "encoding": {
            "x": {"datum": 39.47, "type": "quantitative", "axis": null},
            "y": {"datum": 14.93, "type": "quantitative", "axis": null}
          }
        },
        {
          "data": {"values": [{}]},
          "mark": {"type": "text", "text": "Khalal", "align": "left", "baseline": "alphabetic", "dx": 10, "dy": 3, "font": "Liberation Serif", "fontSize": 10.5, "fontWeight": "bold", "color": "#000"},
          "encoding": {
            "x": {"datum": 39.47, "type": "quantitative", "axis": null},
            "y": {"datum": 14.93, "type": "quantitative", "axis": null}
          }
        },
        {
          "data": {"values": [{}]},
          "mark": {"type": "text", "text": "= -0.0659x + 23.737", "align": "left", "baseline": "alphabetic", "dx": 52, "font": "Liberation Serif", "fontSize": 13, "fontWeight": "bold", "color": "#000"},
          "encoding": {
            "x": {"datum": 39.47, "type": "quantitative", "axis": null},
            "y": {"datum": 14.93, "type": "quantitative", "axis": null}
          }
        },
        {
          "data": {"values": [{}]},
          "mark": {"type": "point", "shape": "circle", "size": 18, "fill": "#92D050", "stroke": "#92D050", "strokeWidth": 0.5, "filled": true, "opacity": 1},
          "encoding": {
            "x": {"datum": 45.22, "type": "quantitative", "axis": null},
            "y": {"datum": 64.61, "type": "quantitative", "axis": null}
          }
        },
        {
          "data": {"values": [{}]},
          "mark": {"type": "point", "shape": "M-1,-1L1,1M1,-1L-1,1", "size": 18, "stroke": "#9D7FC4", "strokeWidth": 1, "filled": false, "opacity": 1},
          "encoding": {
            "x": {"datum": 45.1, "type": "quantitative", "axis": null},
            "y": {"datum": 56.41, "type": "quantitative", "axis": null}
          }
        },
        {
          "data": {"values": [{}]},
          "mark": {"type": "text", "text": "Predicted TSS - Khalal", "align": "left", "baseline": "middle", "dx": 9, "font": "Liberation Serif", "fontSize": 14, "fontWeight": "bold", "color": "#000"},
          "encoding": {
            "x": {"datum": 45.22, "type": "quantitative", "axis": null},
            "y": {"datum": 64.61, "type": "quantitative", "axis": null}
          }
        },
        {
          "data": {"values": [{}]},
          "mark": {"type": "text", "text": "Predicted TSS - Tamar", "align": "left", "baseline": "middle", "dx": 8, "font": "Liberation Serif", "fontSize": 14, "fontWeight": "bold", "color": "#000"},
          "encoding": {
            "x": {"datum": 45.1, "type": "quantitative", "axis": null},
            "y": {"datum": 56.41, "type": "quantitative", "axis": null}
          }
        }
      ]
    }
  ],
  "config": {
    "view": {"stroke": "#000", "strokeWidth": 1.5},
    "axis": {"grid": false}
  }
}
